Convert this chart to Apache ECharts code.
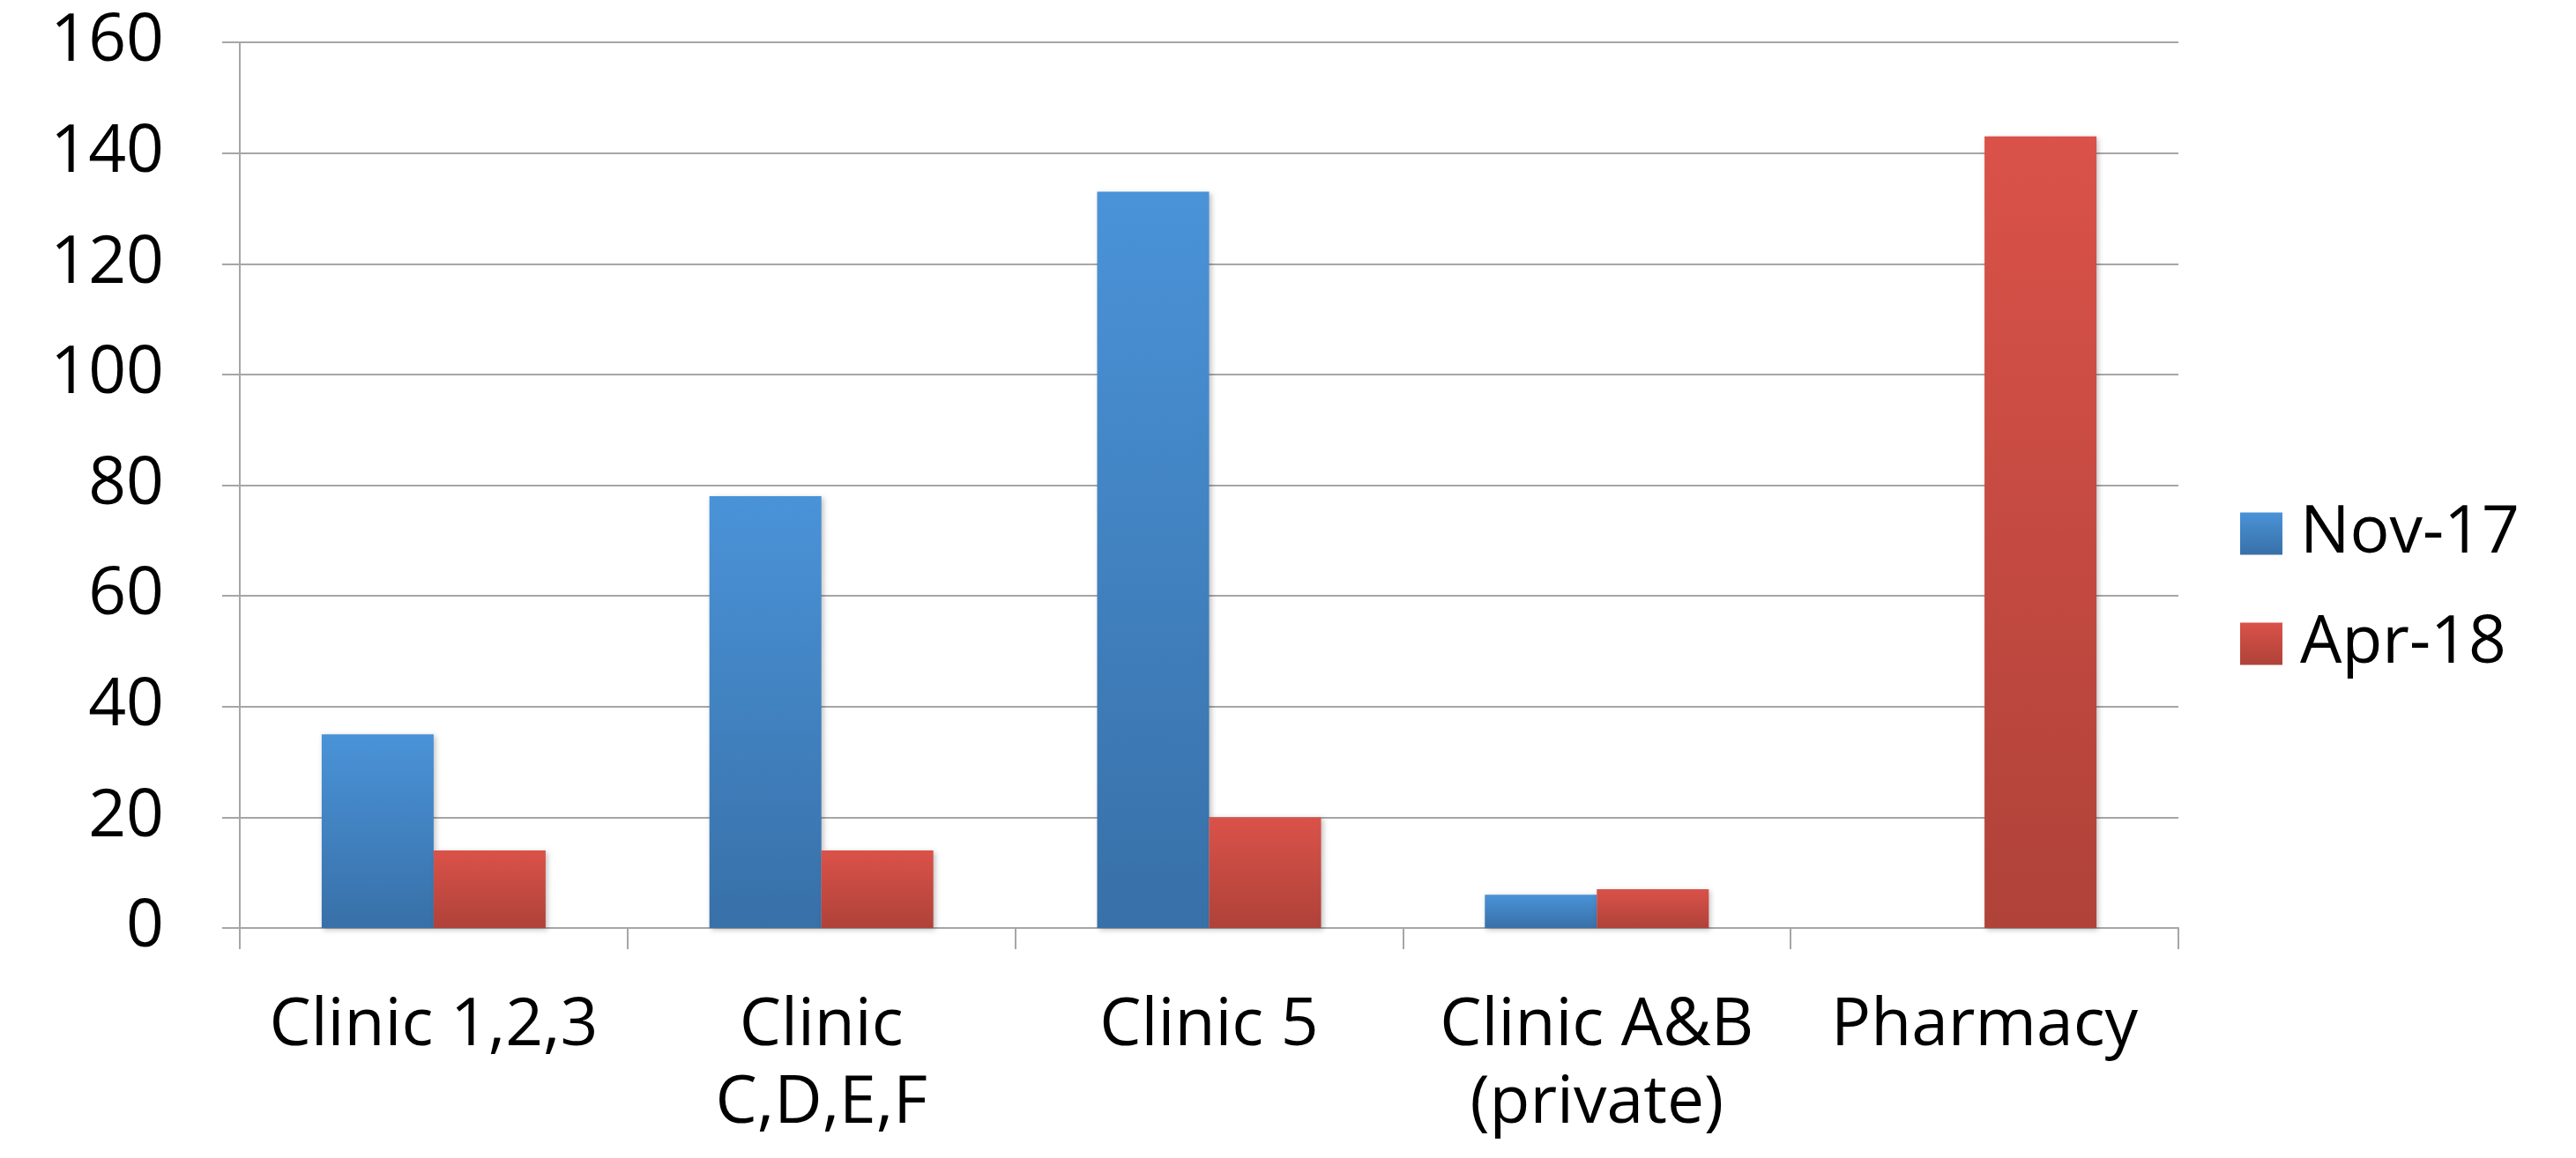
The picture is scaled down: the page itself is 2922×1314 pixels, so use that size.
<!DOCTYPE html>
<html>
<head>
<meta charset="utf-8">
<script src="https://cdn.jsdelivr.net/npm/echarts@6/dist/echarts.min.js"></script>
<style>
html,body{margin:0;padding:0;background:#fff;}
#chart{width:2922px;height:1314px;}
</style>
</head>
<body>
<div id="chart"></div>
<script>
const categories = ['Clinic 1,2,3', 'Clinic\nC,D,E,F', 'Clinic 5', 'Clinic A&B\n(private)', 'Pharmacy'];
const seriesNames = ['Nov-17', 'Apr-18'];
const nov17 = [35, 78, 133, 6, null];
const apr18 = [14, 14, 20, 7, 143];
const yTicks = { min: 0, max: 160, interval: 20 };

const FONT = '"Open Sans", "Liberation Sans", sans-serif';
const grey = '#A6A6A6';

function grad(top, bottom) {
  return new echarts.graphic.LinearGradient(0, 0, 0, 1, [
    { offset: 0, color: top },
    { offset: 1, color: bottom }
  ]);
}

const chart = echarts.init(document.getElementById('chart'), null, { renderer: 'canvas' });
chart.setOption({
  backgroundColor: '#ffffff',
  animation: false,
  textStyle: { fontFamily: FONT },
  grid: { left: 272, right: 451, top: 48, bottom: 261, containLabel: false },
  legend: {
    orient: 'vertical',
    left: 2536,
    top: 563,
    itemWidth: 48,
    itemHeight: 48,
    itemGap: 50,
    icon: 'rect',
    data: seriesNames,
    textStyle: { fontSize: 75, color: '#000', fontFamily: FONT, padding: [0, 0, 0, 15] }
  },
  xAxis: {
    type: 'category',
    data: categories,
    axisLine: { show: true, lineStyle: { color: grey, width: 2 } },
    axisTick: { show: true, length: 24, alignWithLabel: false, lineStyle: { color: grey, width: 2 } },
    axisLabel: {
      interval: 0,
      fontSize: 75,
      lineHeight: 88,
      color: '#000',
      margin: 68,
      fontFamily: FONT
    },
    splitLine: { show: false }
  },
  yAxis: {
    type: 'value',
    min: yTicks.min,
    max: yTicks.max,
    interval: yTicks.interval,
    axisLine: { show: true, lineStyle: { color: grey, width: 2 } },
    axisTick: { show: true, length: 20, lineStyle: { color: grey, width: 2 } },
    axisLabel: { fontSize: 75, color: '#000', margin: 86, fontFamily: FONT },
    splitLine: { show: true, lineStyle: { color: grey, width: 2 } }
  },
  series: [
    {
      name: seriesNames[0],
      type: 'bar',
      data: nov17,
      barWidth: 127,
      barGap: '0%',
      itemStyle: {
        color: grad('#4A93D8', '#3870A8'),
        shadowColor: 'rgba(0,0,0,0.25)',
        shadowBlur: 6,
        shadowOffsetX: 2,
        shadowOffsetY: 2
      }
    },
    {
      name: seriesNames[1],
      type: 'bar',
      data: apr18,
      barWidth: 127,
      barGap: '0%',
      itemStyle: {
        color: grad('#DA5249', '#AF4239'),
        shadowColor: 'rgba(0,0,0,0.25)',
        shadowBlur: 6,
        shadowOffsetX: 2,
        shadowOffsetY: 2
      }
    }
  ]
});
</script>
</body>
</html>
